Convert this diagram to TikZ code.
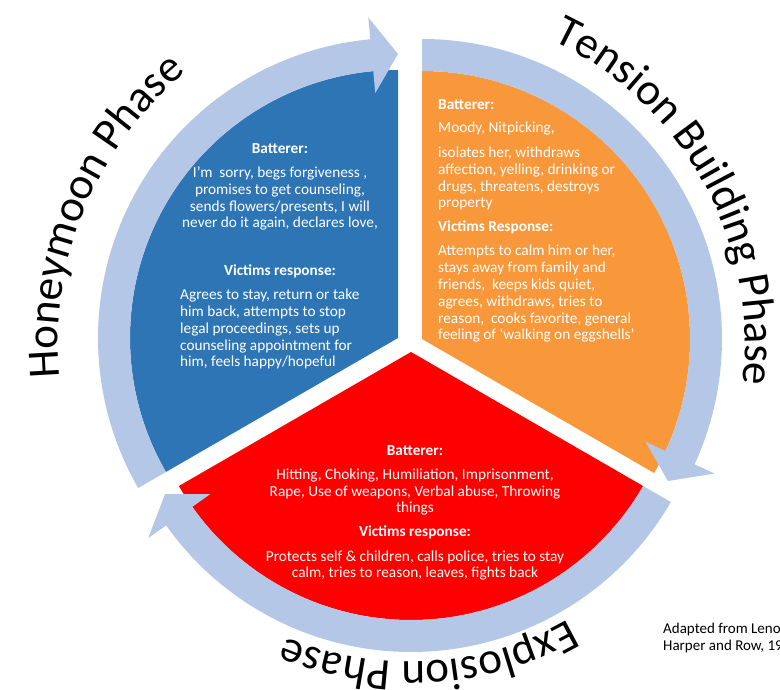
\documentclass[tikz,border=0pt]{standalone}
\usepackage{fontspec}
\setmainfont{Carlito}
\usetikzlibrary{positioning,decorations.text}
\definecolor{honeyblue}{HTML}{2E75B6}
\definecolor{tensionorange}{HTML}{F8983A}
\definecolor{explosionred}{HTML}{FF0000}
\definecolor{ringblue}{HTML}{B4C7E7}
\newcommand\phasefont{\fontsize{45}{45}\selectfont}
\newcommand\cyclefont{\fontsize{15.3}{16.8}\selectfont}

\begin{document}
\begin{tikzpicture}[
x=1pt,
y=1pt,
sector/.style={
  fill=#1,
  draw=none
  },
band/.style={
  fill=ringblue,
  draw=none
  },
say/.style={
  text=white,
  font=\cyclefont,
  inner sep=0pt,
  anchor=base
  },
head/.style={
  say,
  font=\cyclefont\bfseries
  },
phase/.style={
  decorate,
  decoration={text along path, text align=center, text={|\phasefont|#1}}
  },
>=latex
]
\clip (0,0) rectangle (780,689);
\fill[white] (0,0) rectangle (780,689);
\coordinate (C) at (410,345);

% sectors pushed out from the middle, each with its arrow
\foreach \cx/\cy/\a/\col in {398/351/90/honeyblue, 422/350/-30/tensionorange, 411/337/210/explosionred}
{
\begin{scope}[shift={(\cx,\cy)}]
  \fill[sector=\col] (0,0) -- (\a:268) arc[start angle=\a, end angle=\a+120, radius=268] -- cycle;
  \fill[band] (\a+120:268) arc[start angle=\a+120, end angle=\a+5.3, radius=268]
    -- (\a+5.3:246) -- (\a:284) -- (\a+5.3:322) -- (\a+5.3:300)
    arc[start angle=\a+5.3, end angle=\a+120, radius=300] -- cycle;
\end{scope}
}

% phase names round the ring
\path[phase={Honeymoon Phase}] ([shift={(198:352)}]C) arc[start angle=198, end angle=117, radius=352];
\path[phase={Tension Building Phase}] ([shift={(75:335)}]C) arc[start angle=75, end angle=-17, radius=335];
\path[phase={Explosion Phase}] ([shift={(-46.5:318)}]C) arc[start angle=-46.5, end angle=-126.5, radius=318];

% honeymoon (multi-line nodes sit on their last line)
\node[head] (hb) at (280,535) {Batterer:};
\node[say, align=center] (hbtext) at (280,461) {I’m \ sorry, begs forgiveness ,\\promises to get counseling,\\sends flowers/presents, I will\\never do it again, declares love,};
\node[head] (hv) at (280,413) {Victims response:};
\node[say, align=left, anchor=base west] (hvtext) at (180,322) {Agrees to stay, return or take\\him back, attempts to stop\\legal proceedings, sets up\\counseling appointment for\\him, feels happy/hopeful};

% tension building
\node[head, anchor=base west] (tb) at (438,579) {Batterer:};
\node[say, anchor=base west] (tbmood) at (438,556) {Moody, Nitpicking,};
\node[say, align=left, anchor=base west] (tbtext) at (438,481) {isolates her, withdraws\\affection, yelling, drinking or\\drugs, threatens, destroys\\property};
\node[head, anchor=base west] (tv) at (438,457) {Victims Response:};
\node[say, align=left, anchor=base west] (tvtext) at (438,349) {Attempts to calm him or her,\\stays away from family and\\friends, \ keeps kids quiet,\\agrees, withdraws, tries to\\reason, \ cooks favorite, general\\feeling of ‘walking on eggshells’};

% explosion
\node[head] (eb) at (415,233) {Batterer:};
\node[say, align=center] (ebtext) at (415,176) {Hitting, Choking, Humiliation, Imprisonment,\\Rape, Use of weapons, Verbal abuse, Throwing\\things};
\node[head] (ev) at (415,152) {Victims response:};
\node[say, align=center] (evtext) at (415,111) {Protects self \& children, calls police, tries to stay\\calm, tries to reason, leaves, fights back};

\node[align=left, anchor=base west, inner sep=0pt, font=\fontsize{15}{17}\selectfont] (src) at (663,38) {Adapted from Leno\\Harper and Row, 19};
\end{tikzpicture}
\end{document}
